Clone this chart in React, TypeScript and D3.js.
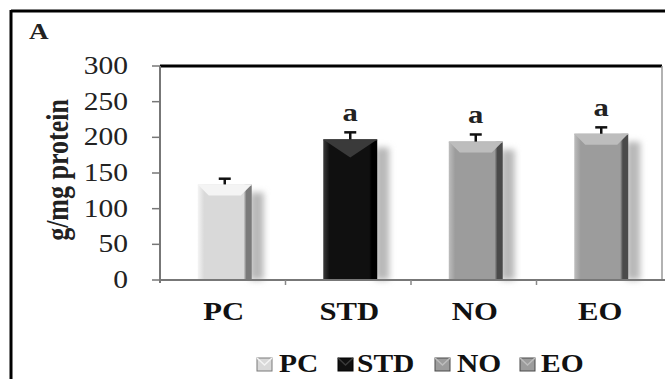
import React from 'react';
import * as d3 from 'd3';

const groups = ['PC', 'STD', 'NO', 'EO'];
const means = [134, 197, 194, 205];
const errors = [8, 10, 10, 9];
const letters = ['', 'a', 'a', 'a'];
const yTicks = [0, 50, 100, 150, 200, 250, 300];

// body, bevel top, dark edge
const palette: Record<string, [string, string, string]> = {
  PC: ['#d9d9d9', '#f4f4f4', '#7a7a7a'],
  STD: ['#101010', '#3a3a3a', '#000000'],
  NO: ['#9c9c9c', '#bdbdbd', '#4a4a4a'],
  EO: ['#9c9c9c', '#bdbdbd', '#4a4a4a'],
};

const W = 665;
const H = 379;
const serif = '"Liberation Serif", "Times New Roman", serif';
const SX = 1.18; // the source picture is stretched a bit horizontally

function T({ x, y, size, anchor = 'start', bold = false, fill = '#111', children }: any) {
  return (
    <text
      transform={`translate(${x},${y}) scale(${SX},1)`}
      textAnchor={anchor}
      fontFamily={serif}
      fontWeight={bold ? 'bold' : 'normal'}
      fontSize={size}
      fill={fill}
    >
      {children}
    </text>
  );
}

export default function App() {
  const left = 160;
  const right = 662;
  const top = 66;
  const bottom = 280;

  const x = d3.scaleBand<string>().domain(groups).range([left + 2, right + 2]).paddingInner(0.57).paddingOuter(0.285);
  const y = d3.scaleLinear().domain([0, 300]).range([bottom, top]);
  const step = x.step();
  const bw = x.bandwidth();

  const legendItems = [
    { name: 'PC', sx: 257, tx: 279 },
    { name: 'STD', sx: 338, tx: 357 },
    { name: 'NO', sx: 435, tx: 457 },
    { name: 'EO', sx: 520, tx: 541 },
  ];

  return (
    <svg width={W} height={H} style={{ position: 'absolute', left: 0, top: 0, background: '#fff' }}>
      <defs>
        <filter id="blur" x="-50%" y="-10%" width="200%" height="120%">
          <feGaussianBlur stdDeviation="3" />
        </filter>
        {groups.map((g) => (
          <linearGradient key={g} id={`grad-${g}`} x1="0" x2="1" y1="0" y2="0">
            <stop offset="0" stopColor={palette[g][1]} />
            <stop offset="0.12" stopColor={palette[g][0]} />
            <stop offset="0.85" stopColor={palette[g][0]} />
            <stop offset="0.9" stopColor={palette[g][2]} />
            <stop offset="1" stopColor={palette[g][2]} />
          </linearGradient>
        ))}
      </defs>

      {/* outer frame */}
      <line x1={11} x2={W} y1={11} y2={11} stroke="#000" strokeWidth={3} />
      <line x1={11} x2={11} y1={10} y2={H} stroke="#000" strokeWidth={3} />
      <T x={29} y={39} size={23} bold fill="#222">A</T>

      {/* plot frame */}
      <line x1={left} x2={right} y1={top} y2={top} stroke="#000" strokeWidth={3} />
      <line x1={right} x2={right} y1={top} y2={bottom} stroke="#999" strokeWidth={1.5} />

      {/* bars */}
      {groups.map((g, i) => {
        const x0 = x(g)!;
        const y0 = y(means[i]);
        const h = bottom - y0;
        const bev = 11;
        const bevelPts =
          g === 'STD'
            ? `${x0},${y0} ${x0 + bw},${y0} ${x0 + bw / 2},${y0 + 18}`
            : `${x0},${y0} ${x0 + bw},${y0} ${x0 + bw - bev},${y0 + bev} ${x0 + bev},${y0 + bev}`;
        return (
          <g key={g}>
            <rect x={x0 + bw - 2} y={y0 + 8} width={14} height={h - 8} fill="#b8b8b8" filter="url(#blur)" />
            <rect x={x0} y={y0} width={bw} height={h} fill={`url(#grad-${g})`} />
            <polygon points={bevelPts} fill={palette[g][1]} />
            <line x1={x0} x2={x0 + bw} y1={y0 + 0.5} y2={y0 + 0.5} stroke={palette[g][1]} strokeWidth={1} />
          </g>
        );
      })}

      {/* error bars */}
      {groups.map((g, i) => {
        const cx = x(g)! + bw / 2;
        const yt = y(means[i] + errors[i]);
        return (
          <g key={g} stroke="#111" strokeWidth={2.5}>
            <line x1={cx} x2={cx} y1={y(means[i])} y2={yt} />
            <line x1={cx - 6} x2={cx + 6} y1={yt} y2={yt} />
          </g>
        );
      })}

      {/* significance letters */}
      {groups.map((g, i) =>
        letters[i] ? (
          <T key={g} x={x(g)! + bw / 2} y={y(means[i] + errors[i]) - 11} anchor="middle" size={26} bold fill="#222">
            {letters[i]}
          </T>
        ) : null
      )}

      {/* y axis */}
      <line x1={left} x2={left} y1={top} y2={bottom + 3} stroke="#777" strokeWidth={2} />
      {yTicks.map((t) => (
        <g key={t}>
          <line x1={left - 8} x2={left} y1={y(t)} y2={y(t)} stroke="#777" strokeWidth={1.5} />
          <T x={128} y={y(t) + 8} anchor="end" size={25} fill="#222">
            {t}
          </T>
        </g>
      ))}
      <text
        transform={`translate(68,170) scale(${SX},1) rotate(-90)`}
        textAnchor="middle"
        fontFamily={serif}
        fontWeight="bold"
        fontSize={26}
        fill="#222"
      >
        g/mg protein
      </text>

      {/* x axis */}
      <line x1={left} x2={W} y1={bottom} y2={bottom} stroke="#777" strokeWidth={2} />
      {groups.map((g, i) =>
        i > 0 ? (
          <line key={g} x1={left + step * i} x2={left + step * i} y1={bottom} y2={bottom + 5} stroke="#888" strokeWidth={1.5} />
        ) : null
      )}
      {groups.map((g) => (
        <T key={g} x={x(g)! + bw / 2 - 1} y={320} anchor="middle" size={26} bold>
          {g}
        </T>
      ))}

      {/* legend */}
      {legendItems.map((it) => (
        <g key={it.name}>
          <rect x={it.sx} y={358} width={15} height={13} fill={palette[it.name][0]} stroke={palette[it.name][2]} strokeWidth={1} />
          <polyline
            points={`${it.sx},${358} ${it.sx + 7.5},${365} ${it.sx + 15},${358}`}
            fill="none"
            stroke={palette[it.name][1]}
            strokeWidth={1.5}
          />
          <T x={it.tx} y={372} size={25} bold>
            {it.name}
          </T>
        </g>
      ))}
    </svg>
  );
}
